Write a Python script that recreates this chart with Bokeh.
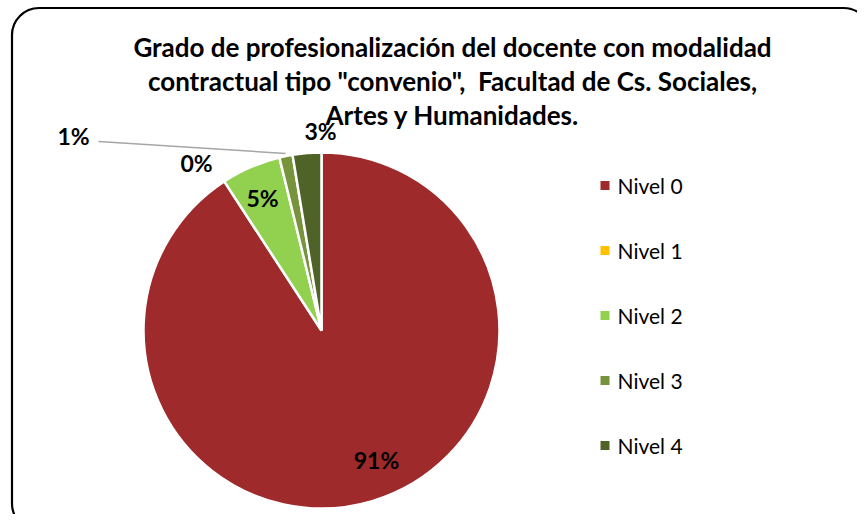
import numpy as np
from bokeh.plotting import figure
from bokeh.models import Range1d, BoxAnnotation, ColumnDataSource
from bokeh.embed import file_html
from bokeh.resources import INLINE
from bokeh.core.properties import value

# ---- data ----
categories = ["Nivel 0", "Nivel 1", "Nivel 2", "Nivel 3", "Nivel 4"]
shares = [90.8, 0.0, 5.4, 1.2, 2.6]
pct_labels = ["91%", "0%", "5%", "1%", "3%"]
colors = ["#9E2A2B", "#FFC000", "#92D050", "#77933C", "#4F6228"]
title_lines = [
    "Grado de profesionalización del docente con modalidad",
    'contractual tipo "convenio",\u00a0 Facultad de Cs. Sociales,',
    "Artes y Humanidades.",
]

# ---- layout (px, from top-left) ----
W, H = 857, 514
def sy(y):
    return H - y

cx, cy, R = 321, sy(330), 178
label_x = [376, 196, 262, 73, 320]
label_y = [459, 162, 197, 135, 130]
title_y = [46, 80, 114]
legend_x = 604.5
legend_y = [185, 250, 315, 380, 445]

FONT = "Lato"

p = figure(width=W, height=H, x_range=Range1d(0, W), y_range=Range1d(0, H),
           output_backend="svg", toolbar_location=None, min_border=0)
p.axis.visible = False
p.grid.visible = False
p.outline_line_color = None
p.background_fill_color = "white"

# rounded chart border
p.add_layout(BoxAnnotation(left=11.5, right=870, top=sy(7.5), bottom=sy(530),
                           border_radius=27, line_color="black", line_alpha=1.0,
                           line_width=2.2, fill_alpha=0))

# wedges
frac = np.array(shares) / np.sum(shares)
cum = np.concatenate([[0], np.cumsum(frac)])
starts = np.pi / 2 - 2 * np.pi * cum[:-1]
ends = np.pi / 2 - 2 * np.pi * cum[1:]
keep = frac > 0
src = ColumnDataSource(dict(start=starts[keep], end=ends[keep],
                            color=[c for c, k in zip(colors, keep) if k]))
p.wedge(x=cx, y=cy, radius=R, start_angle="start", end_angle="end",
        direction="clock", fill_color="color", line_color="white",
        line_width=2.5, source=src)

# leader line for 1%
p.line(x=[98, 285], y=[sy(141), sy(153)], line_color="#A6A6A6", line_width=1.5)

# percentage labels
p.text(x=label_x, y=[sy(v) for v in label_y], text=pct_labels,
       text_align="center", text_baseline="middle",
       text_font=value(FONT), text_font_style="bold", text_font_size="23px",
       text_color="black")

# title
p.text(x=[452] * 3, y=[sy(v) for v in title_y], text=title_lines,
       text_align="center", text_baseline="middle",
       text_font=value(FONT), text_font_style="bold", text_font_size="26px",
       text_color="black")

# legend
p.scatter(x=[legend_x] * 5, y=[sy(v) for v in legend_y], marker="square",
          size=9, fill_color=colors, line_color=None)
p.text(x=[617] * 5, y=[sy(v) for v in legend_y], text=categories,
       text_align="left", text_baseline="middle",
       text_font=value(FONT), text_font_size="21px", text_color="black")

open("out.html", "w").write(file_html(p, INLINE))
